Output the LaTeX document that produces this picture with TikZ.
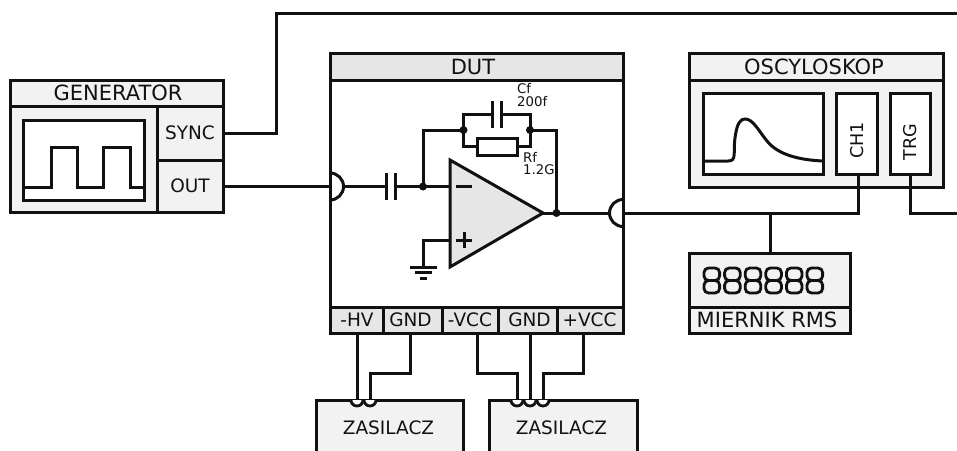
\documentclass[tikz,border=0pt]{standalone}
\usepackage{fontspec}
\setmainfont{DejaVu Sans}
\usetikzlibrary{calc}
\definecolor{lite}{HTML}{F2F2F2}
\definecolor{mid}{HTML}{E6E6E6}
\definecolor{ink}{HTML}{111111}
\newcommand{\pbox}[7]{%
  \pgfmathsetmacro\bxW{#4-#2}\pgfmathsetmacro\bxH{#5-#3}%
  \node[#6, minimum width=\bxW pt, minimum height=\bxH pt, anchor=north west] (#1) at (#2,#3) {#7};}
\tikzset{
  base/.style={draw=ink, line width=3pt, inner sep=0pt, outer sep=0pt, text=ink, line join=miter},
  lbox/.style={base, fill=lite},
  mbox/.style={base, fill=mid},
  wbox/.style={base, fill=white},
  big/.style={font=\fontsize{21}{22}\selectfont},
  med/.style={font=\fontsize{18.5}{20}\selectfont},
  wire/.style={draw=ink, line width=3pt, line join=miter},
  dot/.style={circle, fill=ink, inner sep=0pt, minimum size=8pt, outer sep=0pt},
  small/.style={font=\fontsize{13.3}{13.5}\selectfont, text=ink, inner sep=0pt, align=left, anchor=west},
  smallb/.style={font=\fontsize{13.3}{12}\selectfont, text=ink, inner sep=0pt, align=left, anchor=west},
  plain/.style={text=ink, inner sep=0pt},
}
\begin{document}
\begin{tikzpicture}[x=1pt,y=-1pt]
\useasboundingbox (0,0) rectangle (957,450);
\coordinate (farA) at (957,13);
\coordinate (farB) at (957,213);
\coordinate (inL) at (330,186.5);
\coordinate (inR) at (623,213);
% DUT
\pbox{dutbody}{330}{53}{623}{333}{wbox}{}
\pbox{duttitle}{330}{53}{623}{80}{mbox}{}
\node[plain,big] (dutl) at (473,67) {DUT};
\pbox{hv}{330}{307}{383}{333}{mbox}{}
\pbox{g1}{383}{307}{442}{333}{mbox}{}
\pbox{vm}{442}{307}{498}{333}{mbox}{}
\pbox{g2}{498}{307}{557}{333}{mbox}{}
\pbox{vp}{557}{307}{623}{333}{mbox}{}
\node[plain,med] (hvl) at (357,320) {-HV};
\node[plain,med] (g1l) at (410.5,320) {GND};
\node[plain,med] (vml) at (470,320) {-VCC};
\node[plain,med] (g2l) at (529.5,320) {GND};
\node[plain,med] (vpl) at (589.5,320) {+VCC};
% Generator
\pbox{gen}{10}{80}{223}{212}{lbox}{}
\pbox{gentitle}{10}{80}{223}{106}{lbox}{}
\node[plain,big] (gentl) at (118,93) {GENERATOR};
\pbox{sync}{157}{106}{223}{160}{lbox,med}{SYNC}
\pbox{out}{157}{160}{223}{212}{lbox,med}{OUT}
\pbox{genscr}{23}{120}{144}{200}{wbox}{}
\draw[wire] (genscr.west |- 0,187) -- (51,187) -- (51,147) -- (77,147) -- (77,187) -- (103,187) -- (103,147) -- (130,147) -- (130,187) -- (genscr.east |- 0,187);
% Oscilloscope
\pbox{osc}{689}{53}{943}{187}{lbox}{}
\pbox{osctitle}{689}{53}{943}{80}{lbox}{}
\node[plain,big] (oscl) at (814,67) {OSCYLOSKOP};
\pbox{oscscr}{703}{93}{823}{174}{wbox}{}
\pbox{ch}{836}{93}{877}{174}{wbox}{}
\pbox{trg}{890}{93}{930}{174}{wbox}{}
\node[rotate=90, plain, font=\fontsize{17.6}{18}\selectfont] (chl) at (857,140.5) {CH1};
\node[rotate=90, plain, font=\fontsize{17.6}{18}\selectfont] (trgl) at (910.5,142) {TRG};
\draw[wire] (oscscr.west |- 0,161) -- (728,161) .. controls (737,161) and (733,153) .. (735,138)
  .. controls (737,122) and (741,119) .. (745,119)
  .. controls (753,119) and (758,130) .. (767,141)
  .. controls (778,155) and (800,160) .. (oscscr.east |- 0,161);
% Meter
\pbox{rms}{689}{253}{850}{333}{lbox}{}
\pbox{rmslabel}{689}{307}{850}{333}{lbox}{}
\node[plain,big] (rmsl) at (767,320) {MIERNIK RMS};
\foreach \i in {0,...,5}{
  \draw[ink, line width=2.8pt, rounded corners=4.5pt] ({704+\i*20.6},268) rectangle ({719.6+\i*20.6},280.5);
  \draw[ink, line width=2.8pt, rounded corners=4.5pt] ({704+\i*20.6},280.5) rectangle ({719.6+\i*20.6},293);
}
% Supplies
\pbox{zasA}{316}{400}{463}{470}{lbox}{}
\pbox{zasB}{489}{400}{637}{470}{lbox}{}
\node[plain,med] (zasAl) at (388.5,428) {ZASILACZ};
\node[plain,med] (zasBl) at (561.5,428) {ZASILACZ};
% Supply terminals
\foreach \n/\x in {ta/357,tb/370,tc/517,td/530,te/543}{
  \coordinate (\n) at (\x,400);
  \draw[wire, line width=2.8pt, fill=white] (\x-6,400) arc[start angle=180,end angle=360,radius=6pt];
}
% Main wiring
\draw[wire] (sync.east) -| (276,13) -- (farA);
\draw[wire] (out.east |- inL) -- (inL);
\draw[wire] (inL) ++(13.5,0) coordinate (inLb) -- (386,186.5) coordinate (capA);
\draw[wire] (inR) ++(-13.5,0) coordinate (inRb) -- (543,213);
\draw[wire] (inR) -- (858,213) coordinate (chj) -- (ch.south -| chj);
\draw[wire] (770,213) -- (rms.north -| 770,0);
\draw[wire] (trg.south) -- (trg.south |- farB) -- (farB);
% Terminals on DUT
\draw[wire] (330,173) arc[start angle=90,end angle=-90,radius=13.5pt];
\draw[wire] (623,226.5) arc[start angle=270,end angle=90,radius=13.5pt];
% Input capacitor
\draw[wire] (386,173) -- (386,200);
\draw[wire] (395,173) -- (395,200);
% Op amp
\coordinate (opP) at (450,240);
\coordinate (opM) at (450,186.5);
\coordinate (opO) at (543,213);
\draw[wire] (395,186.5) -- (opM);
\draw[wire] (423,186.5) -- (423,130) -- (463.5,130);
\draw[wire] (opP) -- (423,240) -- (423,267) coordinate (gnd);
\draw[wire] ($(gnd)+(-13.5,0)$) -- ($(gnd)+(13.5,0)$);
\draw[wire] ($(gnd)+(-8.5,5.5)$) -- ($(gnd)+(8.5,5.5)$);
\draw[wire] ($(gnd)+(-3.5,11)$) -- ($(gnd)+(3.5,11)$);
\draw[base, fill=mid] (450,160) -- (opO) -- (450,267) -- cycle;
\draw[wire] (456,186.5) -- (472,186.5);
\draw[wire] (456,240) -- (472,240) (464,232) -- (464,248);
% Feedback
\coordinate (fbL) at (463.5,130);
\coordinate (fbR) at (530,130);
\pbox{rf}{477}{138}{517}{155}{wbox}{}
\draw[wire] (fbL) |- (492,114);
\draw[wire] (fbR) |- (501,114);
\draw[wire] (492,101) -- (492,128);
\draw[wire] (501,101) -- (501,128);
\draw[wire] (fbL) |- (rf.west);
\draw[wire] (fbR) |- (rf.east);
\draw[wire] (fbR) -- (556.5,130) -- (556.5,213);
\node[dot] (d1) at (423,186.5) {};
\node[dot] (d2) at (fbL) {};
\node[dot] (d3) at (fbR) {};
\node[dot] (d4) at (556.5,213) {};
\node[small] (cf) at (517,95) {Cf\\200f};
\node[smallb] (rfl) at (523,163.5) {Rf\\1.2G};
% Supply wires
\draw[wire] (hv.south -| ta) -- (ta);
\draw[wire] (g1.south -| 410,0) -- (410,373) -| (tb);
\draw[wire] (vm.south -| 477,0) -- (477,373) -| (tc);
\draw[wire] (g2.south -| td) -- (td);
\draw[wire] (vp.south -| 583,0) -- (583,373) -| (te);
\end{tikzpicture}
\end{document}
